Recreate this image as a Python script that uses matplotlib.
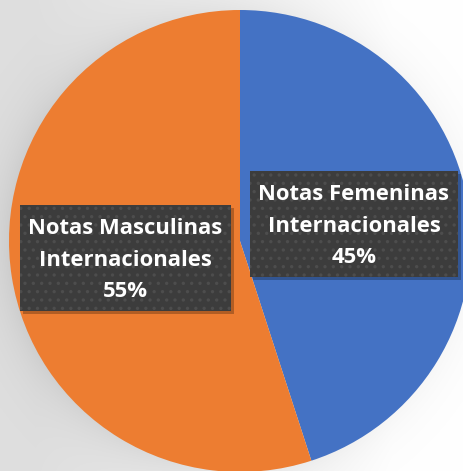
import matplotlib.pyplot as plt
import numpy as np
from matplotlib.patches import Rectangle

plt.rcParams["font.family"] = ["Open Sans", "DejaVu Sans"]
plt.rcParams["hatch.linewidth"] = 1.2
plt.rcParams["hatch.color"] = "#4d4d4d"

# Data
labels = ["Notas Femeninas\nInternacionales", "Notas Masculinas\nInternacionales"]
shares = [45, 55]
colors = ["#4472C4", "#ED7D31"]

W, H = 464, 471
fig = plt.figure(figsize=(W / 100, H / 100), dpi=100)
ax = fig.add_axes([0, 0, 1, 1])
ax.set_xlim(0, W)
ax.set_ylim(0, H)
ax.axis("off")

# Background: grey-to-white gradient plus a soft shadow around the pie
cx, cy, r = 240, 230, 231
xx, yy = np.meshgrid(np.arange(W) + 0.5, np.arange(H) + 0.5)
base = 0.875 + 0.125 * np.clip(xx / W * 1.3 - 0.1, 0, 1)
d = np.hypot(xx - cx, yy - cy) - r
shade = 0.07 * np.exp(-np.clip(d, 0, None) / 22.0) * (1.0 - 0.6 * xx / W)
bg = np.clip(base - shade, 0, 1)
ax.imshow(np.dstack([bg, bg, bg]), extent=[0, W, 0, H], origin="lower",
          interpolation="bilinear", zorder=0, aspect="auto")

wedges, _ = ax.pie(shares, colors=colors, startangle=90, counterclock=False,
                   radius=r, center=(cx, cy),
                   wedgeprops=dict(linewidth=0, zorder=1))
ax.set_xlim(0, W)
ax.set_ylim(0, H)
ax.set_aspect("auto")

# Label boxes (x0, y0, w, h)
boxes = [(250, 194, 208, 106), (20, 160, 211, 106)]
for (x0, y0, bw, bh), lab, val in zip(boxes, labels, shares):
    ax.add_patch(Rectangle((x0 + 3, y0 - 3), bw, bh, facecolor="#000000",
                           alpha=0.25, linewidth=0, zorder=2))
    ax.add_patch(Rectangle((x0, y0), bw, bh, facecolor="#3c3c3c",
                           edgecolor="#4d4d4d", hatch="..", linewidth=0,
                           zorder=3))
    ax.text(x0 + bw / 2, y0 + bh / 2 - 2, f"{lab}\n{val}%", ha="center",
            va="center", color="white", fontsize=15.8, fontweight="bold",
            linespacing=1.68, zorder=4)

fig.savefig("out.png", dpi=100)
